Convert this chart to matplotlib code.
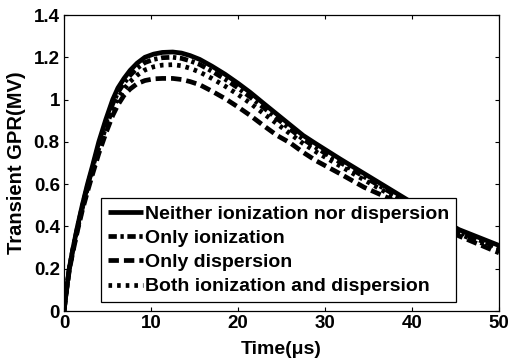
import matplotlib
matplotlib.use("Agg")
import matplotlib.pyplot as plt
from matplotlib.ticker import FuncFormatter

plt.rcParams['font.family'] = ['Liberation Sans', 'DejaVu Sans']
plt.rcParams['font.weight'] = 'bold'
plt.rcParams['lines.scale_dashes'] = False

# Time (us)
time_us = [0, 0.3, 0.6, 1.0, 1.55, 2.1, 2.7, 3.3, 4.0, 4.8, 5.6, 6.2, 6.9, 7.6,
           8.4, 9.3, 10.3, 11.3, 12.5, 13.5, 14.5, 15.6, 17, 18.5, 20, 21.4, 23,
           24.5, 26, 27.5, 29, 31.7, 34.5, 37.5, 41.5, 45.4, 50]
# Transient GPR (MV)
neither = [0, .105, .2, .29, .4, .5, .6, .69, .8, .905, 1.0, 1.055, 1.1, 1.138,
           1.172, 1.2, 1.215, 1.223, 1.225, 1.22, 1.208, 1.19, 1.158, 1.12, 1.077,
           1.034, .98, .93, .88, .83, .79, .72, .65, .575, .475, .385, .31]
only_ionization = [0, .104, .198, .287, .395, .493, .591, .679, .786, .888, .98,
                   1.034, 1.078, 1.115, 1.148, 1.175, 1.19, 1.198, 1.2, 1.195,
                   1.183, 1.166, 1.134, 1.097, 1.055, 1.012, .96, .91, .86, .812,
                   .772, .704, .635, .562, .463, .374, .298]
only_dispersion = [0, .1, .19, .275, .38, .475, .565, .65, .745, .84, .925, .975,
                   1.02, 1.05, 1.075, 1.09, 1.098, 1.10, 1.10, 1.095, 1.085, 1.07,
                   1.04, 1.005, .965, .925, .875, .83, .795, .75, .71, .65, .585,
                   .53, .44, .355, .275]
both = [0, .102, .195, .282, .388, .485, .58, .667, .77, .868, .957, 1.008, 1.05,
        1.085, 1.115, 1.14, 1.155, 1.163, 1.165, 1.16, 1.148, 1.13, 1.1, 1.064,
        1.024, .983, .932, .885, .838, .792, .752, .687, .62, .55, .455, .365, .288]

labels = ['Neither ionization nor dispersion', 'Only ionization',
          'Only dispersion', 'Both ionization and dispersion']
x_ticks = [0, 10, 20, 30, 40, 50]
y_ticks = [0, 0.2, 0.4, 0.6, 0.8, 1.0, 1.2, 1.4]

fig = plt.figure(figsize=(5.10, 3.61), dpi=100)
ax = fig.add_axes([64/510, 1-311/361, 435/510, 296/361])

lw = 3.4
ax.plot(time_us, neither, color='black', lw=lw, linestyle='-', label=labels[0],
        solid_capstyle='butt', solid_joinstyle='round')
ax.plot(time_us, only_ionization, color='black', lw=lw,
        linestyle=(0, (6.0, 2.6, 2.4, 2.6)), label=labels[1], dash_capstyle='butt')
ax.plot(time_us, only_dispersion, color='black', lw=lw,
        linestyle=(0, (7.5, 3.6)), label=labels[2], dash_capstyle='butt')
ax.plot(time_us, both, color='black', lw=lw,
        linestyle=(0, (2.6, 3.6)), label=labels[3], dash_capstyle='butt')

ax.set_xlim(0, 50)
ax.set_ylim(0, 1.4)
ax.set_xticks(x_ticks)
ax.set_yticks(y_ticks)
ax.yaxis.set_major_formatter(FuncFormatter(lambda v, p: f"{v:g}"))
ax.tick_params(direction='in', length=3, width=0.8, top=True, right=True,
               labelsize=13.5, pad=3, colors='black')
for lab in ax.get_xticklabels() + ax.get_yticklabels():
    lab.set_fontweight('bold')
for s in ax.spines.values():
    s.set_linewidth(0.9)

ax.set_xlabel('Time(μs)', fontsize=14, fontweight='bold', labelpad=6.5)
ax.set_ylabel('Transient GPR(MV)', fontsize=14.5, fontweight='bold', labelpad=5.5)

leg = ax.legend(loc='lower left', bbox_to_anchor=(0.085, 0.03), borderaxespad=0,
                fancybox=False, framealpha=1, edgecolor='black',
                prop={'weight': 'bold', 'size': 14},
                handlelength=1.8, handletextpad=0.1, labelspacing=0.34,
                borderpad=0.35)
leg.get_frame().set_linewidth(0.9)

fig.savefig('out.png', dpi=100)
